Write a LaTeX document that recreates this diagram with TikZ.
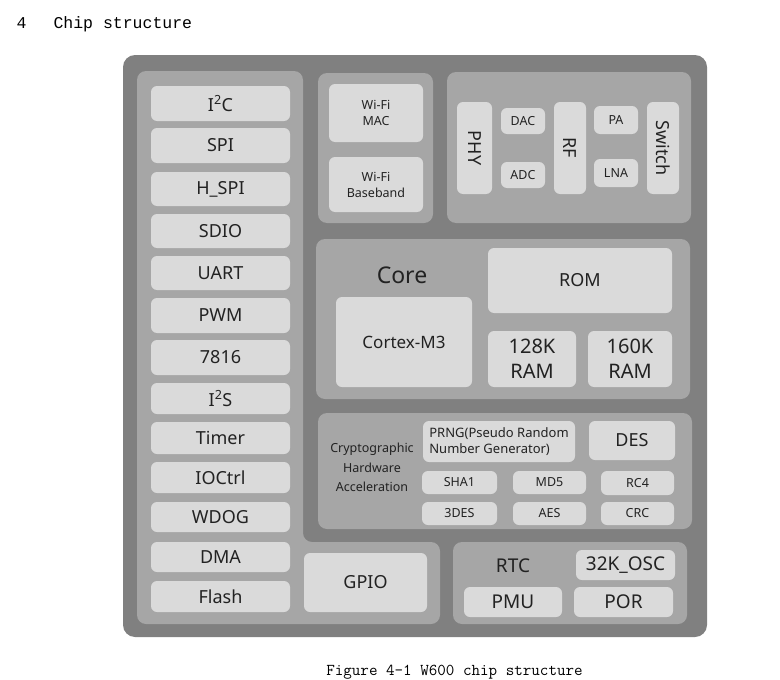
\documentclass[tikz,border=0pt]{standalone}
\usepackage{fontspec}
\setmainfont{Noto Sans}
\newfontfamily\monofont{Liberation Mono}
\definecolor{chipgray}{RGB}{128,128,128}
\definecolor{panelgray}{RGB}{166,166,166}
\definecolor{blkgray}{RGB}{218,218,218}
\definecolor{inkgray}{RGB}{34,34,34}
\begin{document}
\begin{tikzpicture}[x=1pt,y=-1pt,
      panel/.style={fill=panelgray, rounded corners=9pt},
      blk/.style={fill=blkgray, rounded corners=6pt, text=inkgray, inner sep=0pt, font=\fontsize{18}{21}\selectfont},
      sblk/.style={blk, font=\fontsize{12.5}{16}\selectfont},
      tag/.style={text=inkgray, inner sep=0pt, align=center},]
    \useasboundingbox (0,0) rectangle (780,680);
    % heading and caption
    \node[anchor=base west, font=\monofont\fontsize{16.5}{18}\selectfont] (secnum) at (13,28) {4};
    \node[anchor=base west, font=\monofont\fontsize{16.5}{18}\selectfont] (sectitle) at (50,28) {Chip structure};
    \node[anchor=base, font=\ttfamily\fontsize{16.6}{18}\selectfont] (caption) at (454.5,675.5) {Figure 4-1 W600 chip structure};
    % chip and panels
    \fill[chipgray, rounded corners=12pt] (123,55) rectangle (707,637);
    \fill[panel] (137,71) -- (303,71) -- (303,542) -- (440,542) -- (440,624) -- (137,624) -- cycle;
    \fill[panel] (318,73) rectangle (433,223);
    \fill[panel] (447,72) rectangle (691,223);
    \fill[panel] (316,239) rectangle (690,399);
    \fill[panel] (318,413) rectangle (692,529);
    \fill[panel] (453,542) rectangle (687,624);
    % peripherals
    \foreach \nm/\txt/\yc/\bh in {i2c/{I\textsuperscript{2}C}/103.5/35, spi/SPI/145.5/35, hspi/H\_SPI/189/34,
        sdio/SDIO/231/34, uart/UART/273/34, pwm/PWM/315.5/35, iso/7816/357.5/35, i2s/{I\textsuperscript{2}S}/398.5/31,
        timer/Timer/438/32, ioctrl/IOCtrl/477.5/31, wdog/WDOG/517/30, dma/DMA/557/30, flash/Flash/596.5/31}
      \node[blk, minimum width=139, minimum height=\bh] (\nm) at (220.5,\yc) {\txt};
    \node[blk, minimum width=123, minimum height=59] (gpio) at (365.5,582.5) {GPIO};
    % wi-fi
    \node[sblk, align=center, minimum width=94, minimum height=58] (mac) at (376,113) {Wi-Fi\\MAC};
    \node[sblk, align=center, minimum width=94, minimum height=55] (bb) at (376,184.5) {Wi-Fi\\Baseband};
    % radio
    \node[blk, rotate=-90, minimum width=92, minimum height=35] (phy) at (474.5,148) {PHY};
    \node[sblk, minimum width=44, minimum height=26] (dac) at (523,121) {DAC};
    \node[sblk, minimum width=44, minimum height=26] (adc) at (523,175) {ADC};
    \node[blk, rotate=-90, minimum width=92, minimum height=32] (rf) at (570,148) {RF};
    \node[sblk, minimum width=44, minimum height=28] (pa) at (616,120) {PA};
    \node[sblk, minimum width=44, minimum height=28] (lna) at (616,173) {LNA};
    \node[blk, rotate=-90, minimum width=92, minimum height=32] (switch) at (663,148) {Switch};
    % core
    \node[tag, font=\fontsize{23}{26}\selectfont] (core) at (402,275) {Core};
    \node[blk, minimum width=184, minimum height=65] (rom) at (580,280.5) {ROM};
    \node[blk, minimum width=136, minimum height=90, font=\fontsize{17}{20}\selectfont] (cpu) at (404,342) {Cortex-M3};
    \node[blk, align=center, minimum width=88, minimum height=56, font=\fontsize{20}{25}\selectfont] (ram1) at (532,359) {128K\\RAM};
    \node[blk, align=center, minimum width=84, minimum height=56, font=\fontsize{20}{25}\selectfont] (ram2) at (630,359) {160K\\RAM};
    % crypto
    \node[tag, font=\fontsize{12.5}{19.5}\selectfont] (crypto) at (372,467.5) {Cryptographic\\Hardware\\Acceleration};
    \node[sblk, minimum width=152, minimum height=41, align=left, font=\fontsize{13}{16}\selectfont] (prng) at (499,441.5) {PRNG(Pseudo Random\\Number Generator)};
    \node[blk, minimum width=86, minimum height=39] (des) at (632,440.5) {DES};
    \node[sblk, minimum width=75, minimum height=23] (sha) at (459.5,482.5) {SHA1};
    \node[sblk, minimum width=73, minimum height=23] (md5) at (549.5,482.5) {MD5};
    \node[sblk, minimum width=73, minimum height=24] (rc4) at (637.5,483) {RC4};
    \node[sblk, minimum width=75, minimum height=23] (tdes) at (459.5,513.5) {3DES};
    \node[sblk, minimum width=73, minimum height=23] (aes) at (549.5,513.5) {AES};
    \node[sblk, minimum width=73, minimum height=23] (crc) at (637.5,513.5) {CRC};
    % power
    \node[tag, font=\fontsize{19}{22}\selectfont] (rtc) at (513,566) {RTC};
    \node[blk, minimum width=99, minimum height=30, font=\fontsize{19}{22}\selectfont] (osc) at (625.5,565) {32K\_OSC};
    \node[blk, minimum width=98, minimum height=30, font=\fontsize{19}{22}\selectfont] (pmu) at (513,602) {PMU};
    \node[blk, minimum width=99, minimum height=30, font=\fontsize{19}{22}\selectfont] (por) at (623.5,602) {POR};
\end{tikzpicture}
\end{document}
